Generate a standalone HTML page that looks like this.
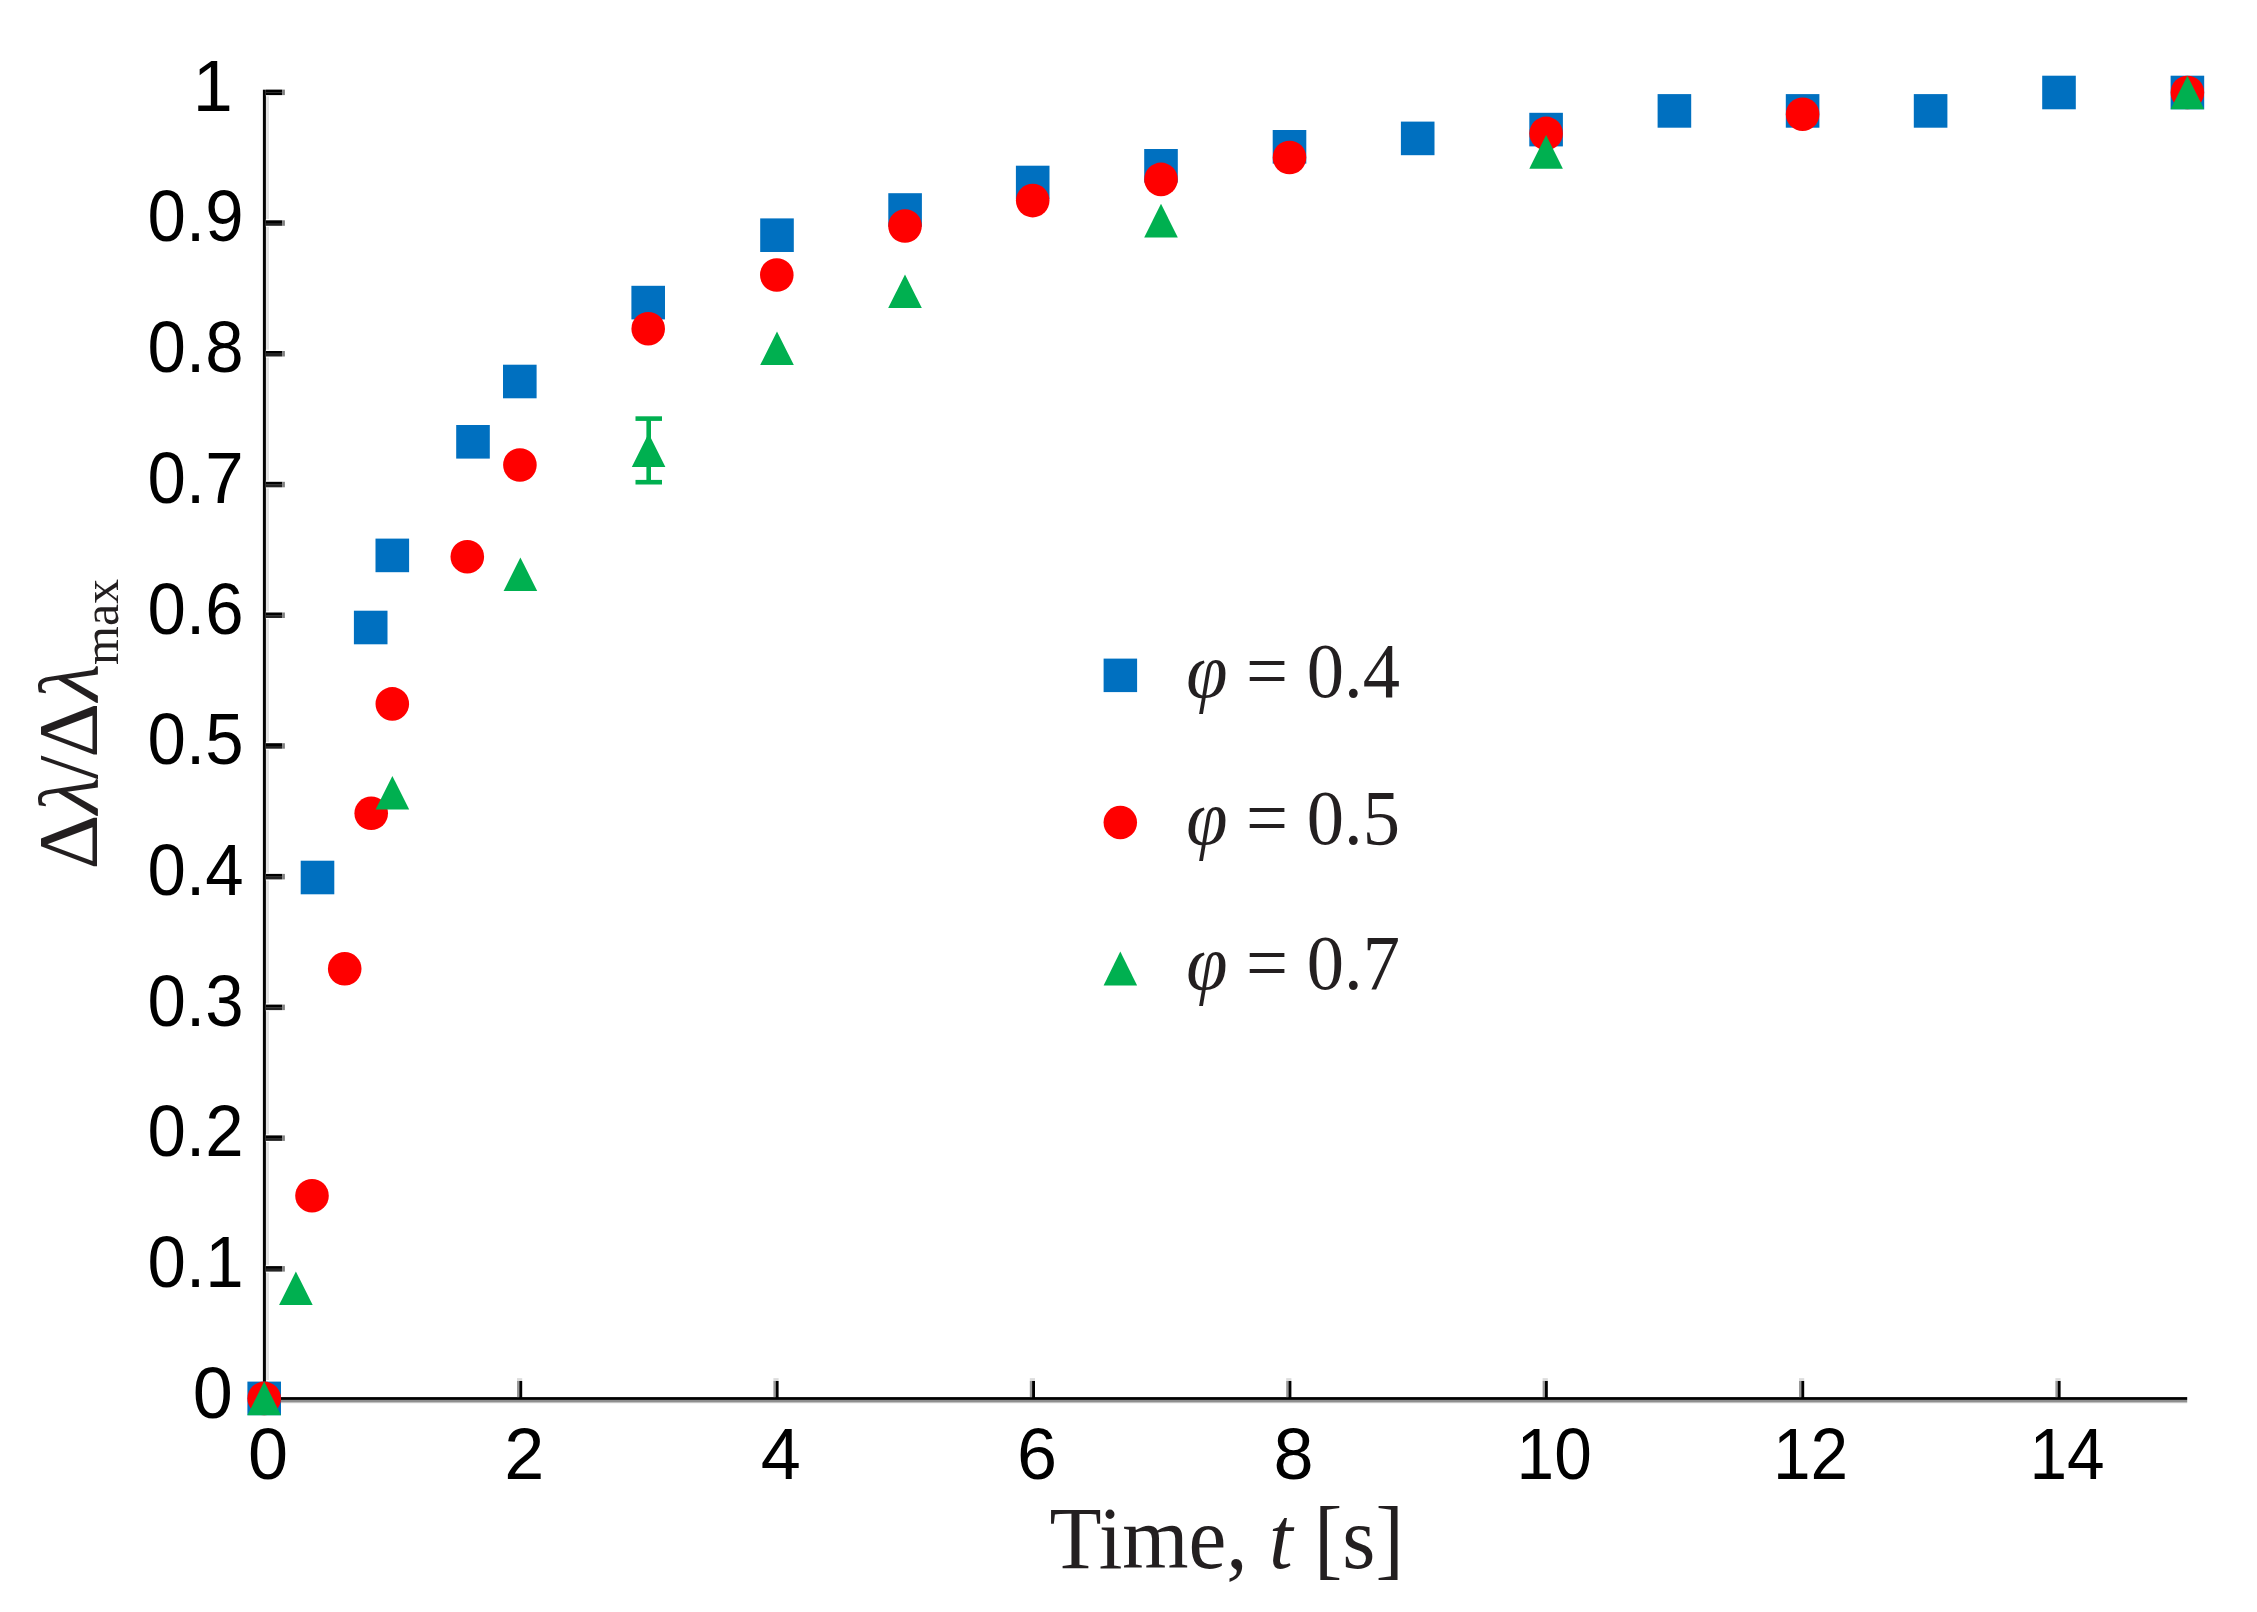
<!DOCTYPE html>
<html lang="en"><head><meta charset="utf-8"><title>Normalized wavelength shift versus time</title>
<style>html,body{margin:0;padding:0;background:#fff;}body{width:2257px;height:1612px;overflow:hidden;}svg{display:block;}
.tk{font-family:"Liberation Sans",sans-serif;font-size:72px;fill:#000;}
.ser{font-family:"Liberation Serif",serif;fill:#231f20;}
</style></head><body>
<svg width="2257" height="1612" viewBox="0 0 2257 1612">
<rect width="2257" height="1612" fill="#fff"/>
<g id="axes">
<rect x="260" y="90" width="3" height="1290" fill="#fafafa"/>
<rect x="266" y="96" width="3" height="1284" fill="#e0e0e0"/>
<rect x="262.9" y="89.7" width="3" height="1312" fill="#000"/>
<rect x="262.9" y="1402" width="1924.3" height="1.2" fill="#cfcfcf"/>
<rect x="262.9" y="1399.8" width="1924.3" height="2.4" fill="#8f8f8f"/>
<rect x="262.9" y="1397.1" width="1924.3" height="2.8" fill="#000"/>
<rect x="265.9" y="1264.8" width="19" height="8" fill="#fff"/>
<rect x="265.9" y="1268.8" width="16.2" height="2.8" fill="#242424"/>
<rect x="265.9" y="1266.1" width="16.2" height="2.8" fill="#000"/>
<rect x="282.1" y="1266.1" width="2.8" height="5.5" fill="#808080"/>
<rect x="265.9" y="1134.1" width="19" height="8" fill="#fff"/>
<rect x="265.9" y="1138.1" width="16.2" height="2.8" fill="#242424"/>
<rect x="265.9" y="1135.4" width="16.2" height="2.8" fill="#000"/>
<rect x="282.1" y="1135.4" width="2.8" height="5.5" fill="#808080"/>
<rect x="265.9" y="1003.3" width="19" height="8" fill="#fff"/>
<rect x="265.9" y="1007.3" width="16.2" height="2.8" fill="#242424"/>
<rect x="265.9" y="1004.6" width="16.2" height="2.8" fill="#000"/>
<rect x="282.1" y="1004.6" width="2.8" height="5.5" fill="#808080"/>
<rect x="265.9" y="872.6" width="19" height="8" fill="#fff"/>
<rect x="265.9" y="876.6" width="16.2" height="2.8" fill="#242424"/>
<rect x="265.9" y="873.9" width="16.2" height="2.8" fill="#000"/>
<rect x="282.1" y="873.9" width="2.8" height="5.5" fill="#808080"/>
<rect x="265.9" y="741.9" width="19" height="8" fill="#fff"/>
<rect x="265.9" y="745.9" width="16.2" height="2.8" fill="#242424"/>
<rect x="265.9" y="743.2" width="16.2" height="2.8" fill="#000"/>
<rect x="282.1" y="743.2" width="2.8" height="5.5" fill="#808080"/>
<rect x="265.9" y="611.2" width="19" height="8" fill="#fff"/>
<rect x="265.9" y="615.2" width="16.2" height="2.8" fill="#242424"/>
<rect x="265.9" y="612.5" width="16.2" height="2.8" fill="#000"/>
<rect x="282.1" y="612.5" width="2.8" height="5.5" fill="#808080"/>
<rect x="265.9" y="480.5" width="19" height="8" fill="#fff"/>
<rect x="265.9" y="484.5" width="16.2" height="2.8" fill="#242424"/>
<rect x="265.9" y="481.8" width="16.2" height="2.8" fill="#000"/>
<rect x="282.1" y="481.8" width="2.8" height="5.5" fill="#808080"/>
<rect x="265.9" y="349.7" width="19" height="8" fill="#fff"/>
<rect x="265.9" y="353.7" width="16.2" height="2.8" fill="#242424"/>
<rect x="265.9" y="351.0" width="16.2" height="2.8" fill="#000"/>
<rect x="282.1" y="351.0" width="2.8" height="5.5" fill="#808080"/>
<rect x="265.9" y="219.0" width="19" height="8" fill="#fff"/>
<rect x="265.9" y="223.0" width="16.2" height="2.8" fill="#242424"/>
<rect x="265.9" y="220.3" width="16.2" height="2.8" fill="#000"/>
<rect x="282.1" y="220.3" width="2.8" height="5.5" fill="#808080"/>
<rect x="265.9" y="88.3" width="19" height="8" fill="#fff"/>
<rect x="265.9" y="92.3" width="16.2" height="2.8" fill="#000"/>
<rect x="265.9" y="89.6" width="16.2" height="2.8" fill="#000"/>
<rect x="282.1" y="89.6" width="2.8" height="5.5" fill="#808080"/>
<rect x="517.0" y="1378.1" width="5.2" height="3" fill="#dddddd"/>
<rect x="517.0" y="1381" width="2.3" height="16.1" fill="#999999"/>
<rect x="519.3" y="1381" width="2.9" height="17" fill="#000"/>
<rect x="773.4" y="1378.1" width="5.2" height="3" fill="#dddddd"/>
<rect x="773.4" y="1381" width="2.3" height="16.1" fill="#999999"/>
<rect x="775.7" y="1381" width="2.9" height="17" fill="#000"/>
<rect x="1029.8" y="1378.1" width="5.2" height="3" fill="#dddddd"/>
<rect x="1029.8" y="1381" width="2.3" height="16.1" fill="#999999"/>
<rect x="1032.1" y="1381" width="2.9" height="17" fill="#000"/>
<rect x="1286.2" y="1378.1" width="5.2" height="3" fill="#dddddd"/>
<rect x="1286.2" y="1381" width="2.3" height="16.1" fill="#999999"/>
<rect x="1288.5" y="1381" width="2.9" height="17" fill="#000"/>
<rect x="1542.6" y="1378.1" width="5.2" height="3" fill="#dddddd"/>
<rect x="1542.6" y="1381" width="2.3" height="16.1" fill="#999999"/>
<rect x="1544.9" y="1381" width="2.9" height="17" fill="#000"/>
<rect x="1799.0" y="1378.1" width="5.2" height="3" fill="#dddddd"/>
<rect x="1799.0" y="1381" width="2.3" height="16.1" fill="#999999"/>
<rect x="1801.3" y="1381" width="2.9" height="17" fill="#000"/>
<rect x="2055.4" y="1378.1" width="5.2" height="3" fill="#dddddd"/>
<rect x="2055.4" y="1381" width="2.3" height="16.1" fill="#999999"/>
<rect x="2057.7" y="1381" width="2.9" height="17" fill="#000"/>
</g>
<g class="tk">
<text x="232.8" y="1417.8" text-anchor="end">0</text>
<text x="147.6" y="1287.1" textLength="95.9" lengthAdjust="spacingAndGlyphs">0.1</text>
<text x="147.6" y="1156.4" textLength="95.9" lengthAdjust="spacingAndGlyphs">0.2</text>
<text x="147.6" y="1025.6" textLength="95.9" lengthAdjust="spacingAndGlyphs">0.3</text>
<text x="147.6" y="894.9" textLength="95.9" lengthAdjust="spacingAndGlyphs">0.4</text>
<text x="147.6" y="764.2" textLength="95.9" lengthAdjust="spacingAndGlyphs">0.5</text>
<text x="147.6" y="633.5" textLength="95.9" lengthAdjust="spacingAndGlyphs">0.6</text>
<text x="147.6" y="502.8" textLength="95.9" lengthAdjust="spacingAndGlyphs">0.7</text>
<text x="147.6" y="372.0" textLength="95.9" lengthAdjust="spacingAndGlyphs">0.8</text>
<text x="147.6" y="241.3" textLength="95.9" lengthAdjust="spacingAndGlyphs">0.9</text>
<text x="232.8" y="110.6" text-anchor="end">1</text>
<text x="267.9" y="1479" text-anchor="middle">0</text>
<text x="524.3" y="1479" text-anchor="middle">2</text>
<text x="780.7" y="1479" text-anchor="middle">4</text>
<text x="1037.1" y="1479" text-anchor="middle">6</text>
<text x="1293.5" y="1479" text-anchor="middle">8</text>
<text x="1516.6" y="1479" textLength="75.2" lengthAdjust="spacingAndGlyphs">10</text>
<text x="1773.0" y="1479" textLength="75.2" lengthAdjust="spacingAndGlyphs">12</text>
<text x="2029.4" y="1479" textLength="75.2" lengthAdjust="spacingAndGlyphs">14</text>
</g>
<g id="s1" fill="#0070C0">
<rect x="247.4" y="1381.6" width="33.6" height="33.6"/>
<rect x="300.7" y="860.7" width="33.6" height="33.6"/>
<rect x="353.9" y="610.7" width="33.6" height="33.6"/>
<rect x="375.5" y="538.6" width="33.6" height="33.6"/>
<rect x="456.2" y="425.0" width="33.6" height="33.6"/>
<rect x="503.0" y="364.7" width="33.6" height="33.6"/>
<rect x="631.4" y="285.8" width="33.6" height="33.6"/>
<rect x="760.2" y="218.4" width="33.6" height="33.6"/>
<rect x="888.3" y="193.2" width="33.6" height="33.6"/>
<rect x="1015.9" y="165.7" width="33.6" height="33.6"/>
<rect x="1144.2" y="149.0" width="33.6" height="33.6"/>
<rect x="1272.7" y="130.0" width="33.6" height="33.6"/>
<rect x="1400.9" y="121.6" width="33.6" height="33.6"/>
<rect x="1529.3" y="112.8" width="33.6" height="33.6"/>
<rect x="1657.6" y="94.1" width="33.6" height="33.6"/>
<rect x="1785.8" y="94.1" width="33.6" height="33.6"/>
<rect x="1913.8" y="94.1" width="33.6" height="33.6"/>
<rect x="2042.2" y="75.7" width="33.6" height="33.6"/>
<rect x="2170.6" y="75.7" width="33.6" height="33.6"/>
</g>
<g id="s2" fill="#FF0000">
<circle cx="264.2" cy="1398.4" r="16.80"/>
<circle cx="312.0" cy="1195.7" r="16.80"/>
<circle cx="344.7" cy="968.8" r="16.80"/>
<circle cx="371.2" cy="813.3" r="16.80"/>
<circle cx="392.3" cy="703.9" r="16.80"/>
<circle cx="467.3" cy="556.7" r="16.80"/>
<circle cx="519.9" cy="465.0" r="16.80"/>
<circle cx="648.2" cy="328.7" r="16.80"/>
<circle cx="776.8" cy="275.0" r="16.80"/>
<circle cx="905.0" cy="226.0" r="16.80"/>
<circle cx="1032.7" cy="200.6" r="16.80"/>
<circle cx="1161.0" cy="179.4" r="16.80"/>
<circle cx="1289.5" cy="157.5" r="16.80"/>
<circle cx="1546.1" cy="133.4" r="16.80"/>
<circle cx="1802.6" cy="114.2" r="16.80"/>
<circle cx="2187.4" cy="92.5" r="16.80"/>
</g>
<g id="s3" fill="#00B050">
<rect x="646.4" y="418.6" width="4.6" height="63.6"/>
<rect x="635.5" y="416.3" width="26.5" height="4.6"/>
<rect x="635.5" y="479.9" width="26.5" height="4.6"/>
<polygon points="264.2,1381.6 281.0,1415.2 247.4,1415.2"/>
<polygon points="295.9,1271.4 312.7,1305.0 279.1,1305.0"/>
<polygon points="392.4,776.0 409.2,809.6 375.6,809.6"/>
<polygon points="520.4,557.4 537.2,591.0 503.6,591.0"/>
<polygon points="648.6,433.4 665.4,467.0 631.8,467.0"/>
<polygon points="777.0,331.4 793.8,365.0 760.2,365.0"/>
<polygon points="905.0,274.5 921.8,308.1 888.2,308.1"/>
<polygon points="1161.0,203.8 1177.8,237.4 1144.2,237.4"/>
<polygon points="1546.1,135.1 1562.9,168.7 1529.3,168.7"/>
<polygon points="2187.4,75.7 2204.2,109.3 2170.6,109.3"/>
</g>
<rect x="1103.6" y="658.6" width="33.5" height="33.5" fill="#0070C0"/>
<circle cx="1120.3" cy="822.5" r="16.75" fill="#FF0000"/>
<polygon points="1120.3,951.5 1137.1,985.5 1103.6,985.5" fill="#00B050"/>
<g class="ser" font-size="77.5">
<text x="1186.2" y="697.0" textLength="213.8" lengthAdjust="spacingAndGlyphs"><tspan font-style="italic">φ</tspan> = 0.4</text>
<text x="1186.2" y="844.2" textLength="213.8" lengthAdjust="spacingAndGlyphs"><tspan font-style="italic">φ</tspan> = 0.5</text>
<text x="1186.2" y="988.6" textLength="213.8" lengthAdjust="spacingAndGlyphs"><tspan font-style="italic">φ</tspan> = 0.7</text>
</g>
<text class="ser" font-size="89" x="1049.6" y="1567.8" textLength="354.2" lengthAdjust="spacingAndGlyphs">Time, <tspan font-style="italic">t</tspan> [s]</text>
<g class="ser" font-size="85.5" transform="translate(96.5,0) rotate(-90)">
<text x="-869.4" y="0.0" font-size="85.5">Δ</text>
<text x="-813.9" y="0.0" font-size="85.5" font-style="italic">λ</text>
<text x="-779.2" y="0.0" font-size="85.5">/</text>
<text x="-757.7" y="0.0" font-size="85.5">Δ</text>
<text x="-701.1" y="0.0" font-size="85.5" font-style="italic">λ</text>
<text x="-665.0" y="21.9" font-size="50.0">max</text>
</g>
</svg></body></html>
